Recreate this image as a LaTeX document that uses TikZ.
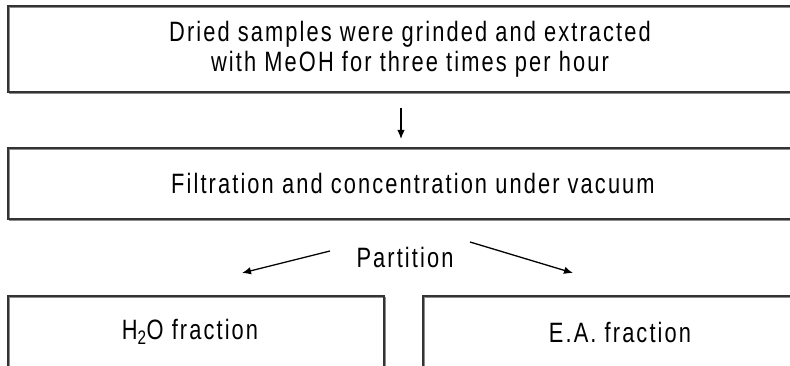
\documentclass[tikz,border=0pt]{standalone}
\usepackage{fontspec}
\setmainfont{Liberation Sans}[FakeStretch=0.78, LetterSpace=7.5]
\usetikzlibrary{arrows.meta,calc}
\begin{document}
\begin{tikzpicture}[x=1pt,y=-1pt,
  box/.style={draw=black!80, line width=1.3pt, inner sep=0pt, minimum width=#1},
  lbl/.style={font=\fontsize{28}{30}\selectfont, inner sep=0pt, align=center},
  arr/.style={line width=1.3pt, -{Latex[length=9pt,width=7.5pt]}}]
\useasboundingbox (0,0) rectangle (790,366);
\clip (0,0) rectangle (790,366);
% gray shadows
\draw[black!45, line width=1.3pt] (9.3,7.3) rectangle (801.3,93.3);
\draw[black!45, line width=1.3pt] (9.3,149.3) rectangle (801.3,220.3);
\draw[black!45, line width=1.3pt] (9.3,297.3) rectangle (385.3,410);
\draw[black!45, line width=1.3pt] (424.3,297.3) rectangle (801.3,410);
% boxes
\node[box=792pt, minimum height=86pt] (top) at (404,49) {};
\node[box=792pt, minimum height=71pt] (mid) at (404,183.5) {};
\node[box=376pt, minimum height=114pt] (left) at (196,353) {};
\node[box=377pt, minimum height=114pt] (right) at (611.5,353) {};
% labels
\node[lbl] (toptxt) at (410,49) {Dried samples were grinded and extracted\\with MeOH for three times per hour};
\node[lbl] (midtxt) at (413,183) {Filtration and concentration under vacuum};
\node[lbl] (part) at (405,257) {Partition};
\node[lbl] (ltxt) at (190,332) {H\textsubscript{2}O fraction};
\node[lbl] (rtxt) at (620,332) {E.A. fraction};
% arrow ends
\coordinate (a1) at (401,108);
\coordinate (a2) at (401,139);
\coordinate (l1) at (330,251);
\coordinate (l2) at (242,273);
\coordinate (r1) at (470,242);
\coordinate (r2) at (573,273);
\draw[arr] (a1) -- (a2);
\draw[arr] (l1) -- (l2);
\draw[arr] (r1) -- (r2);
\end{tikzpicture}
\end{document}
